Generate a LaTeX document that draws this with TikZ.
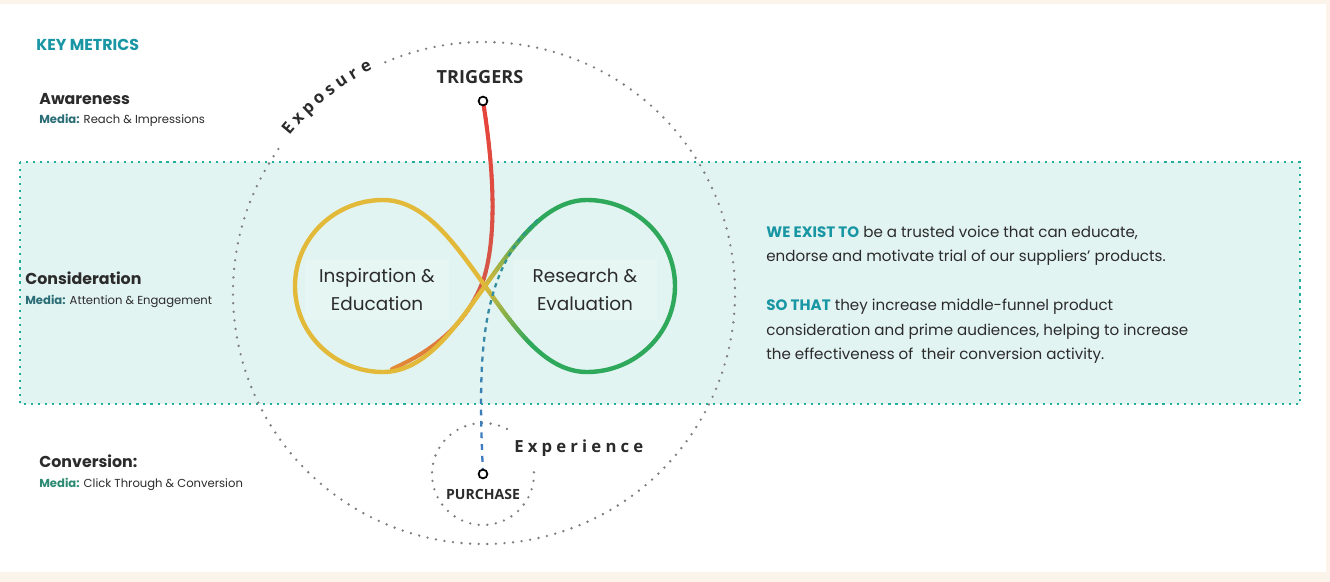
\documentclass[tikz,border=0pt]{standalone}
\usepackage{fontspec}
\setmainfont{Poppins}
\newfontfamily\tagfont{Open Sans}
\newfontfamily\spacedfont[LetterSpace=25]{Open Sans}
\usetikzlibrary{positioning}
\definecolor{pagecream}{HTML}{FCF4EA}
\definecolor{bandfill}{HTML}{E2F4F1}
\definecolor{banddot}{HTML}{22AE9A}
\definecolor{ringgrey}{HTML}{7E7E7E}
\definecolor{inkdark}{HTML}{2B2B2B}
\definecolor{headteal}{HTML}{1896A4}
\definecolor{mediateal}{HTML}{2A6D76}
\definecolor{mediagreen}{HTML}{2C8A72}
\definecolor{stagefill}{HTML}{E6F6F3}
\definecolor{loopyellow}{HTML}{E3B93A}
\definecolor{loopgreen}{HTML}{2EA85A}
\definecolor{trigred}{HTML}{E8433A}
\definecolor{trigmute}{HTML}{D45649}
\definecolor{trigorange}{HTML}{E28A36}
\definecolor{purchblue}{HTML}{3F78C2}
\definecolor{purchteal}{HTML}{2C9B86}

% curve drawn in short pieces so its colour can run from #5 to #6
\newcommand{\gradstroke}[7]{%
  \foreach \i [evaluate=\i as \t using \i/24] in {0,...,24}
    \path (#1) .. controls (#2) and (#3) .. (#4) coordinate[pos=\t] (gs\i);
  \foreach \i [evaluate=\i as \j using int(\i-1), evaluate=\i as \m using int(100*\i/24)] in {1,...,24}
    \draw[#7,draw=#6!\m!#5] (gs\j) -- (gs\i);
}

\begin{document}
\begin{tikzpicture}[x=0.02cm,y=-0.02cm,
    ringdots/.style={draw=ringgrey,line width=1.5pt,line cap=round,dash pattern=on 0pt off 4.9pt},
    loopline/.style={line width=2.5pt,line cap=round},
    metric/.style={anchor=base west,inner sep=0pt,text=inkdark,font=\fontsize{9}{11}\selectfont\bfseries},
    media/.style={anchor=base west,inner sep=0pt,text=inkdark,font=\fontsize{6.6}{8}\selectfont},
    message/.style={anchor=base west,inner sep=0pt,text=inkdark,font=\fontsize{8.6}{10}\selectfont},
    stage/.style={align=center,fill=stagefill,inner sep=0pt,minimum width=2.9cm,minimum height=1.2cm,text=inkdark,font=\fontsize{10.5}{15.9}\selectfont},
    ringword/.style={anchor=base,inner sep=0pt,text=inkdark,font=\fontsize{9.5}{11}\selectfont\tagfont\bfseries},
    capword/.style={inner sep=0pt,text=inkdark,font=\fontsize{8}{10}\selectfont\tagfont\bfseries},
    tapdot/.style={circle,draw=black,fill=white,line width=1pt,inner sep=0pt,minimum size=5pt}]
  % page and panel
  \useasboundingbox (0,0) rectangle (1330,582);
  \fill[pagecream] (0,0) rectangle (1330,582);
  \fill[white] (0,4) rectangle (1326,572);

  % consideration band
  \fill[bandfill] (20,162) rectangle (1300,404);
  \draw[banddot,line width=1.2pt,dash pattern=on 1.2pt off 2.8pt] (20,162) rectangle (1300,404);

  % exposure ring and purchase ring
  \coordinate (ring) at (484,293);
  \coordinate (cup) at (483,474);
  \draw[ringdots] (ring) ++(-145:251) arc[start angle=-145,end angle=-474,radius=251];
  \draw[ringdots] (cup) ++(-62:51) arc[start angle=-62,end angle=-365,radius=51];
  \foreach \l [count=\k] in {E,x,p,o,s,u,r,e}{
    \pgfmathsetmacro\ang{140-3.2*(\k-1)}
    \node[ringword,rotate=\ang-90] (expo\k) at ({484+250*cos(\ang)},{293-250*sin(\ang)}) {\l};
  }
  \node[ringword,anchor=base west,font=\fontsize{9.5}{11}\selectfont\spacedfont\bfseries] (experience) at (514,452) {Experience};

  % key metrics
  \node[metric,text=headteal] (keymetrics) at (36,50) {KEY METRICS};
  \node[metric] (awareness) at (39,104) {Awareness};
  \node[media] (awaremedia) at (39,123) {\textcolor{mediateal}{\bfseries Media:} Reach \& Impressions};
  \node[metric] (consider) at (25,284) {Consideration};
  \node[media] (considermedia) at (25,304) {\textcolor{mediateal}{\bfseries Media:} Attention \& Engagement};
  \node[metric] (conversion) at (39,467) {Conversion:};
  \node[media] (conversionmedia) at (39,487) {\textcolor{mediagreen}{\bfseries Media:} Click Through \& Conversion};

  % purpose statement
  \node[message] (exist1) at (766,237) {\textcolor{headteal}{\bfseries WE EXIST TO} be a trusted voice that can educate,};
  \node[message] (exist2) at (766,261) {endorse and motivate trial of our suppliers’ products.};
  \node[message] (sothat1) at (766,310) {\textcolor{headteal}{\bfseries SO THAT} they increase middle-funnel product};
  \node[message] (sothat2) at (766,335) {consideration and prime audiences, helping to increase};
  \node[message] (sothat3) at (766,359) {the effectiveness of\ \ their conversion activity.};

  % loop stages
  \node[stage] (inspire) at (377,290) {Inspiration \&\\Education};
  \node[stage] (research) at (585,290) {Research \&\\Evaluation};

  \coordinate (trigpt) at (483,101);
  \coordinate (purchpt) at (483,474);
  \coordinate (cross) at (485,286);
  \coordinate (redbend) at (484,278);
  \coordinate (redend) at (392,369);
  \coordinate (bluetop) at (541,217);
  \coordinate (armup) at (531.5,227.25);
  \coordinate (armdn) at (531.5,344.75);

  % trigger path
  \gradstroke{trigpt}{494,170}{497,235}{redbend}{trigred}{trigmute}{line width=2.3pt,line cap=round}
  \gradstroke{redbend}{470,318}{440,348}{redend}{trigmute}{trigorange}{line width=2.3pt,line cap=round}

  % infinity loop
  \draw[loopline,loopyellow] (cross) .. controls (455,244) and (425,200) .. (383,200)
    .. controls (335,200) and (295,238) .. (295,286)
    .. controls (295,334) and (335,372) .. (383,372)
    .. controls (425,372) and (455,328) .. (cross);
  \draw[loopline,loopgreen] (armup) .. controls (548,211) and (566,200) .. (587,200)
    .. controls (635,200) and (675,238) .. (675,286)
    .. controls (675,334) and (635,372) .. (587,372)
    .. controls (566,372) and (548,361) .. (armdn);
  \gradstroke{cross}{500,265}{515,243.5}{armup}{loopyellow}{loopgreen}{loopline}
  \gradstroke{cross}{500,307}{515,328.5}{armdn}{loopyellow}{loopgreen}{loopline}

  % purchase path, dashed
  \foreach \i [evaluate=\i as \t using \i/56] in {0,...,56}
    \path (purchpt) .. controls (478,360) and (478,270) .. (bluetop) coordinate[pos=\t] (bd\i);
  \foreach \i [evaluate=\i as \j using int(\i+1), evaluate=\i as \m using int(100*\i/56)] in {0,2,...,54}
    \draw[line width=1.3pt,purchteal!\m!purchblue] (bd\i) -- (bd\j);

  \node[tapdot] (trig) at (trigpt) {};
  \node[tapdot] (purch) at (purchpt) {};
  \node[capword,above=6.8pt of trig,xshift=-1.7pt,font=\fontsize{10.3}{12}\selectfont\tagfont\bfseries] (triggers) {TRIGGERS};
  \node[capword,below=5.4pt of purch] (purchase) {PURCHASE};
\end{tikzpicture}
\end{document}
